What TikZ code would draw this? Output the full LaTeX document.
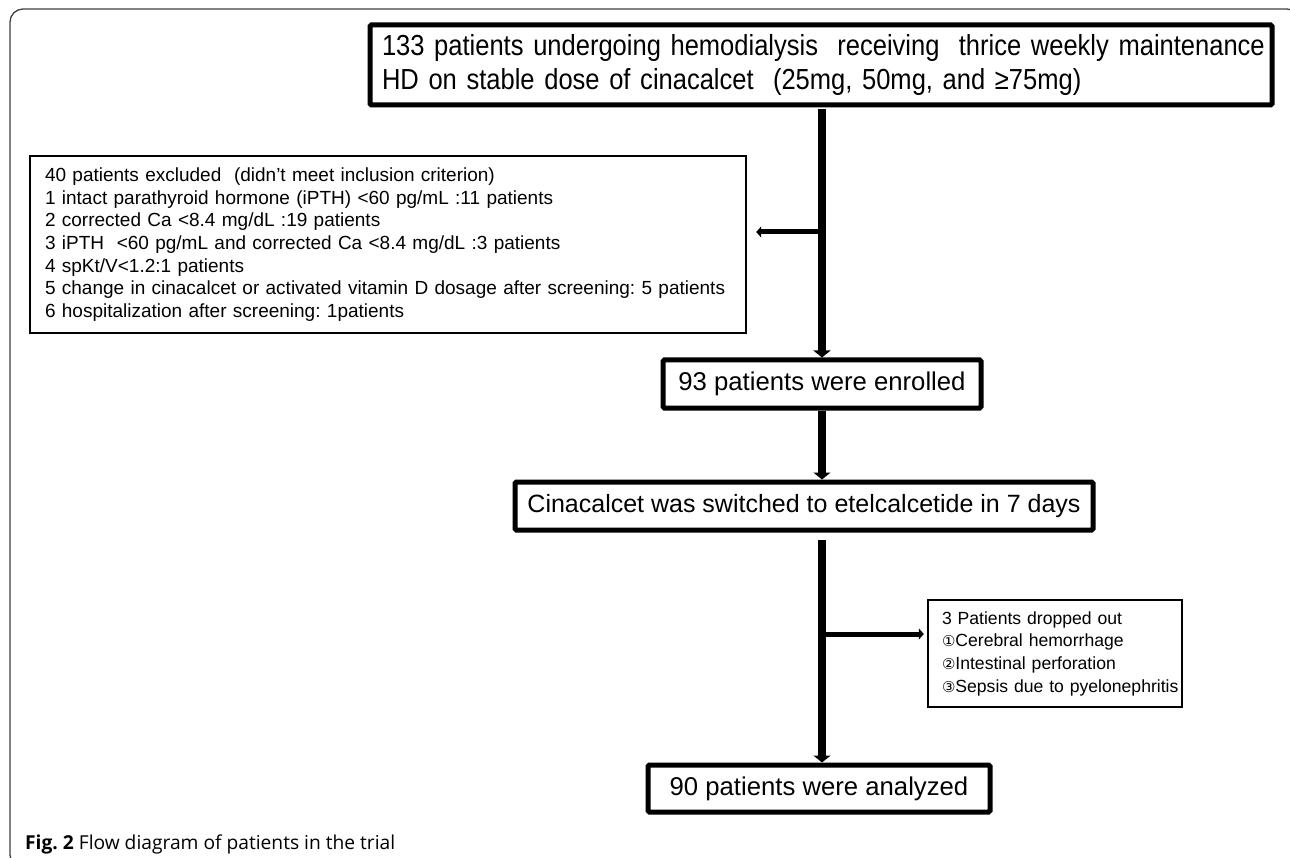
\documentclass[tikz,border=0pt]{standalone}
\usepackage{fontspec}
\setmainfont{Liberation Sans}
\newfontfamily\condfont[FakeStretch=0.88]{Liberation Sans}
\newfontfamily\symfont[Scale=0.85]{DejaVu Sans}
\newfontfamily\capfont{Open Sans}
\usetikzlibrary{arrows.meta}
\frenchspacing
\tikzset{
  thickbox/.style={draw=black, line width=5pt, rounded corners=1.5pt, fill=white, inner sep=0pt, align=center},
  thinbox/.style={draw=black, line width=2.4pt, fill=white, inner ysep=0pt, align=left, font=\fontsize{19}{22.7}\selectfont},
  bigtext/.style={font=\fontsize{25.7}{30}\selectfont},
  mainflow/.style={line width=8pt, -{Triangle[width=17pt,length=7pt]}},
  sideflow/.style={line width=5pt, -{Triangle[width=11pt,length=5pt]}},
  frameline/.style={draw=black!75, line width=1.3pt, rounded corners=13pt}
}
\begin{document}
\begin{tikzpicture}[x=1pt,y=-1pt]
\useasboundingbox (0,0) rectangle (1290,858);
\begin{scope}
\clip (0,0) rectangle (1290,858);
\draw[frameline] (10,9) rectangle (1300,868);
\end{scope}

% top box
\node[thickbox, minimum width=902pt, minimum height=80pt, align=left, inner xsep=12pt, text width=878pt,
      font=\condfont\fontsize{29}{34}\selectfont] (top) at (821,65)
  {\mbox{133 patients undergoing hemodialysis\ \ receiving\ \ thrice weekly maintenance}\\
   \mbox{HD on stable dose of cinacalcet\ \ (25mg, 50mg, and ≥75mg)}};

% excluded box
\node[thinbox, minimum height=177pt, text width=686pt, inner xsep=15pt] (excl) at (388,244.5)
  {\mbox{40 patients excluded\ \ (didn’t meet inclusion criterion)}\\
   \mbox{1 intact parathyroid hormone (iPTH) <60 pg/mL :11 patients}\\
   \mbox{2 corrected Ca <8.4 mg/dL :19 patients}\\
   \mbox{3 iPTH\ \ <60 pg/mL and corrected Ca <8.4 mg/dL :3 patients}\\
   \mbox{4 spKt/V<1.2:1 patients}\\
   \mbox{5 change in cinacalcet or activated vitamin D dosage after screening: 5 patients}\\
   \mbox{6 hospitalization after screening: 1patients}};

% enrolled
\node[thickbox, bigtext, minimum width=318pt, minimum height=48pt] (enr) at (822,384)
  {93 patients were enrolled};

% switched
\node[thickbox, minimum width=578pt, minimum height=48pt, font=\fontsize{25}{30}\selectfont] (sw) at (804,506)
  {Cinacalcet was switched to etelcalcetide in 7 days};

% dropped
\node[thinbox, minimum height=107pt, text width=226pt, inner xsep=14pt, font=\fontsize{17.6}{22.7}\selectfont] (drop) at (1055,653.5)
  {\mbox{3 Patients dropped out}\\
   \mbox{{\symfont ①}Cerebral hemorrhage}\\
   \mbox{{\symfont ②}Intestinal perforation}\\
   \mbox{{\symfont ③}Sepsis due to pyelonephritis}};

% analyzed
\node[thickbox, bigtext, minimum width=342pt, minimum height=47pt] (ana) at (819,788.5)
  {90 patients were analyzed};

% connectors
\coordinate (j1) at (821,232);
\coordinate (j2) at (822,634);
\draw[mainflow, shorten <=2pt] (top.south -| enr.north) -- (enr.north);
\draw[sideflow, shorten >=9pt] (j1) -- (j1 -| excl.east);
\draw[mainflow] (enr.south) -- (enr.south |- sw.north);
\draw[mainflow, shorten <=7pt] (sw.south -| enr.south) -- (enr.south |- ana.north);
\draw[sideflow, shorten >=3pt] (j2) -- (j2 -| drop.west);

% caption
\node[anchor=base west, inner sep=0pt, font=\capfont\fontsize{19.2}{22}\selectfont] (cap) at (25,849)
  {\textbf{Fig. 2} Flow diagram of patients in the trial};
\end{tikzpicture}
\end{document}
